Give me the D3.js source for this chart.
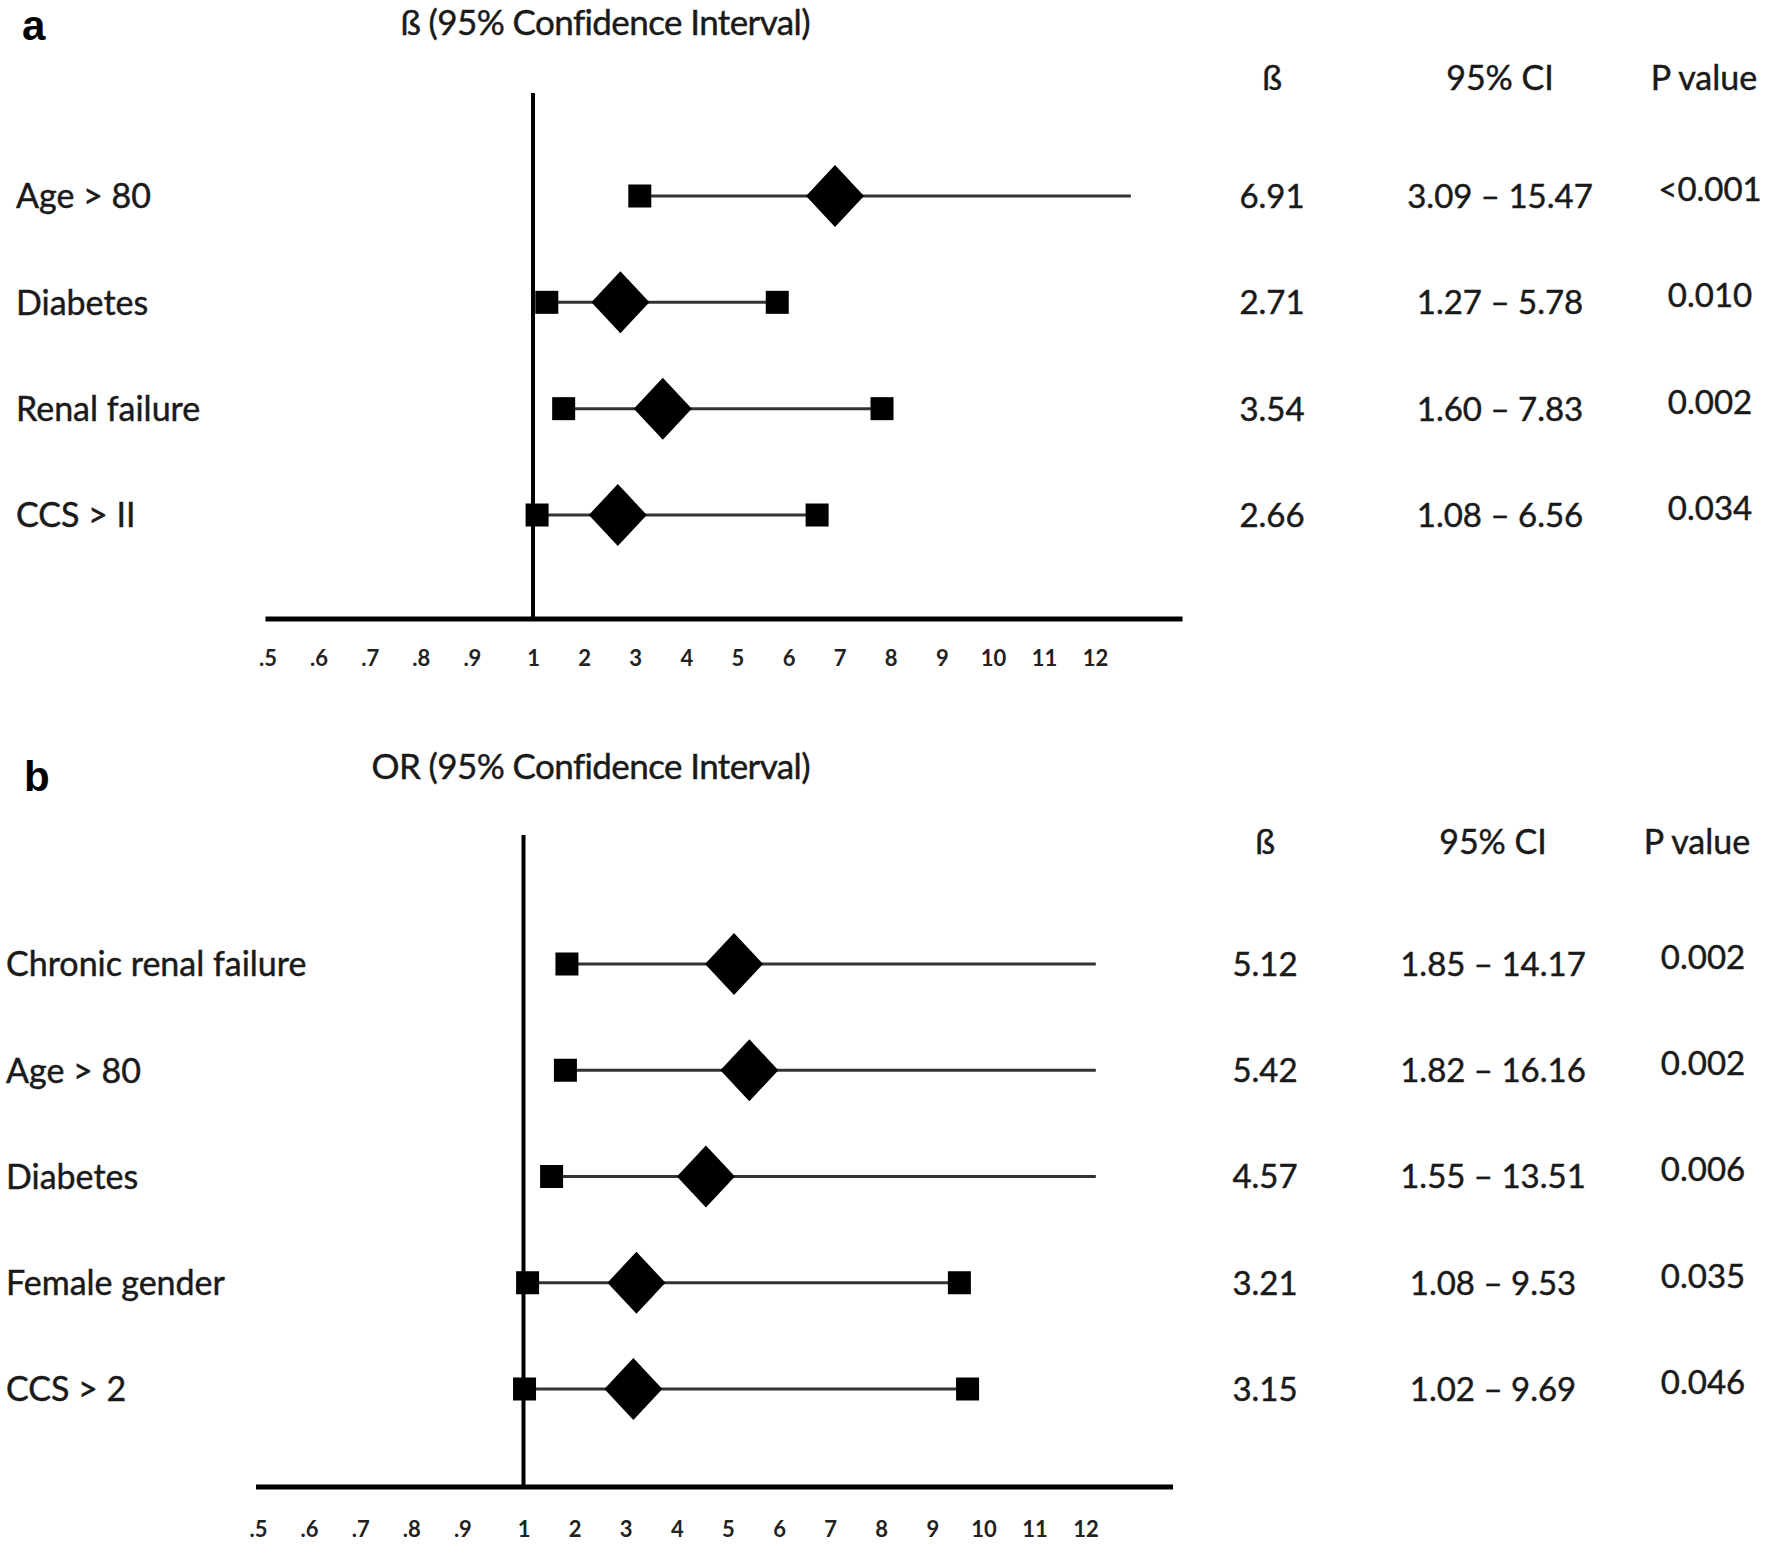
<!DOCTYPE html>
<html>
<head>
<meta charset="utf-8">
<script src="https://cdn.jsdelivr.net/npm/d3@7"></script>
<style>
  html, body { margin: 0; padding: 0; background: #fff; }
  svg { display: block; }
  text { font-family: Lato, "Open Sans", sans-serif; fill: #1a1a1a; }
  .heavy { stroke: #1a1a1a; stroke-width: 0.45px; }
</style>
</head>
<body>
<svg id="chart" width="1770" height="1549"></svg>
<script>
// ---------------- DATA ----------------
const tickValues = [0.5, 0.6, 0.7, 0.8, 0.9, 1, 2, 3, 4, 5, 6, 7, 8, 9, 10, 11, 12];
const tickLabels = [".5", ".6", ".7", ".8", ".9", "1", "2", "3", "4", "5", "6", "7", "8", "9", "10", "11", "12"];

// Panel a
const aTitle = "ß (95% Confidence Interval)";
const aHeaders = ["ß", "95% CI", "P value"];
const aCategories = ["Age > 80", "Diabetes", "Renal  failure", "CCS > II"];
const aEstimate = [6.91, 2.71, 3.54, 2.66];
const aLower = [3.09, 1.27, 1.60, 1.08];
const aUpper = [15.47, 5.78, 7.83, 6.56];
const aCILabels = ["3.09 – 15.47", "1.27 – 5.78", "1.60 – 7.83", "1.08 – 6.56"];
const aPValues = ["<0.001", "0.010", "0.002", "0.034"];
const aDisplayMax = 12.7;   // whiskers beyond this are drawn cut off

// Panel b
const bTitle = "OR (95% Confidence Interval)";
const bHeaders = ["ß", "95% CI", "P value"];
const bCategories = ["Chronic renal failure", "Age > 80", "Diabetes", "Female gender", "CCS > 2"];
const bEstimate = [5.12, 5.42, 4.57, 3.21, 3.15];
const bLower = [1.85, 1.82, 1.55, 1.08, 1.02];
const bUpper = [14.17, 16.16, 13.51, 9.53, 9.69];
const bCILabels = ["1.85 – 14.17", "1.82 – 16.16", "1.55 – 13.51", "1.08 – 9.53", "1.02 – 9.69"];
const bPValues = ["0.002", "0.002", "0.006", "0.035", "0.046"];
const bDisplayMax = 12.2;

// ---------------- DRAW ----------------
const svg = d3.select("#chart");
svg.append("rect").attr("width", 1770).attr("height", 1549).attr("fill", "#fff");

const STEP = 51.1, GAP = 10;
function makeX(x0) {
  // piecewise scale: evenly spaced ticks, a little extra room before "1"
  const range = tickValues.map((d, i) => x0 + i * STEP + (i >= 5 ? GAP : 0));
  return d3.scaleLinear().domain(tickValues).range(range);
}

function drawPanel(cfg) {
  const g = svg.append("g");
  const x = makeX(cfg.x0);
  const y = d3.scalePoint().domain(cfg.categories).range([cfg.rowTop, cfg.rowBottom]);

  // panel letter
  g.append("text").attr("x", cfg.letterX).attr("y", cfg.letterY)
    .style("font-family", "'Liberation Sans', Arial, sans-serif")
    .style("font-weight", "bold").style("font-size", "42px").style("fill", "#000")
    .text(cfg.letter);

  // title
  g.append("text").attr("class", "heavy").attr("x", cfg.titleRight).attr("y", cfg.titleY)
    .attr("text-anchor", "end").style("font-size", "35px").style("letter-spacing", "-0.6px")
    .text(cfg.title);

  // axis (horizontal line + labels)
  const axisG = g.append("g").attr("transform", `translate(0,${cfg.axisY})`);
  const axis = d3.axisBottom(x).tickValues(tickValues)
    .tickFormat((d, i) => tickLabels[i]).tickSize(0).tickPadding(cfg.tickPad);
  axisG.call(axis);
  axisG.select(".domain").remove();
  axisG.selectAll("text").style("font-family", "Lato, sans-serif")
    .style("font-weight", "bold").style("font-size", "22px").style("fill", "#222");
  axisG.append("line").attr("x1", cfg.x0 - 2).attr("x2", cfg.x0 + 915)
    .attr("y1", 0).attr("y2", 0).attr("stroke", "#000").attr("stroke-width", 5);

  // reference line at 1
  g.append("line").attr("x1", x(1)).attr("x2", x(1))
    .attr("y1", cfg.refTop).attr("y2", cfg.axisY)
    .attr("stroke", "#000").attr("stroke-width", 4);

  const rows = cfg.categories.map((c, i) => ({
    c, est: cfg.est[i], lo: cfg.lo[i], hi: cfg.hi[i], ci: cfg.ciLabels[i], p: cfg.p[i]
  }));

  const rowG = g.selectAll(".row").data(rows).enter().append("g")
    .attr("transform", d => `translate(0,${y(d.c)})`);

  // whisker
  rowG.append("line")
    .attr("x1", d => x(d.lo)).attr("x2", d => x(Math.min(d.hi, cfg.displayMax)))
    .attr("y1", 0).attr("y2", 0).attr("stroke", "#333").attr("stroke-width", 3);

  // squares at CI ends
  const SQ = 23;
  rowG.append("rect").attr("x", d => x(d.lo) - SQ / 2).attr("y", -SQ / 2)
    .attr("width", SQ).attr("height", SQ).attr("fill", "#000");
  rowG.filter(d => d.hi <= cfg.displayMax).append("rect")
    .attr("x", d => x(d.hi) - SQ / 2).attr("y", -SQ / 2)
    .attr("width", SQ).attr("height", SQ).attr("fill", "#000");

  // diamond at estimate
  const DW = 29, DH = 31;
  rowG.append("path")
    .attr("d", d => `M${x(d.est)},${-DH} L${x(d.est) + DW},0 L${x(d.est)},${DH} L${x(d.est) - DW},0 Z`)
    .attr("fill", "#000");

  // row labels
  rowG.append("text").attr("class", "heavy").attr("x", cfg.labelX).attr("dy", "0.36em")
    .style("font-size", "34px").text(d => d.c);

  // table columns
  rowG.append("text").attr("class", "heavy").attr("x", cfg.colX[0]).attr("dy", "0.36em").attr("text-anchor", "middle")
    .style("font-size", "33px").text(d => d.est.toFixed(2));
  rowG.append("text").attr("class", "heavy").attr("x", cfg.colX[1]).attr("dy", "0.36em").attr("text-anchor", "middle")
    .style("font-size", "33px").text(d => d.ci);
  rowG.append("text").attr("class", "heavy").attr("x", cfg.colX[2]).attr("y", -7).attr("dy", "0.36em").attr("text-anchor", "middle")
    .style("font-size", "33px").text(d => d.p);

  // headers
  cfg.headers.forEach((h, i) => {
    g.append("text").attr("class", "heavy").attr("x", cfg.colX[i] + (i === 2 ? -6 : 0)).attr("y", cfg.headerY).attr("dy", "0.36em")
      .attr("text-anchor", "middle").style("font-size", "34px").text(h);
  });
}

drawPanel({
  letter: "a", letterX: 22, letterY: 40,
  title: aTitle, titleRight: 810, titleY: 35,
  headers: aHeaders, headerY: 78, colX: [1272, 1500, 1710],
  categories: aCategories, est: aEstimate, lo: aLower, hi: aUpper,
  ciLabels: aCILabels, p: aPValues, displayMax: aDisplayMax,
  x0: 267.5, axisY: 619, refTop: 93, rowTop: 196, rowBottom: 515, labelX: 16, tickPad: 31
});

drawPanel({
  letter: "b", letterX: 24, letterY: 791,
  title: bTitle, titleRight: 810, titleY: 779,
  headers: bHeaders, headerY: 842, colX: [1265, 1493, 1703],
  categories: bCategories, est: bEstimate, lo: bLower, hi: bUpper,
  ciLabels: bCILabels, p: bPValues, displayMax: bDisplayMax,
  x0: 258, axisY: 1487, refTop: 835, rowTop: 964, rowBottom: 1389, labelX: 6, tickPad: 34
});
</script>
</body>
</html>
